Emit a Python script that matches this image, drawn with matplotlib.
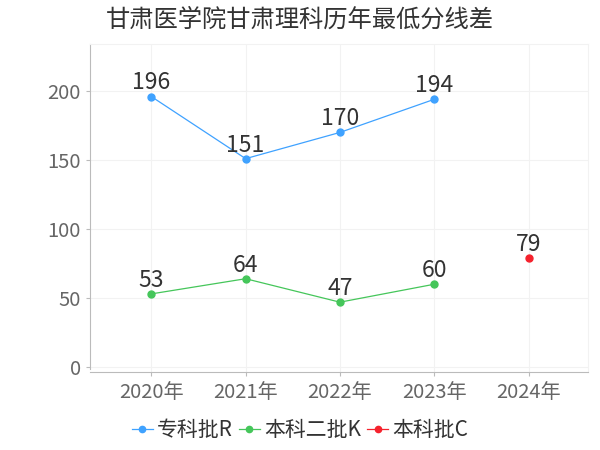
import matplotlib
matplotlib.use("Agg")
import matplotlib.pyplot as plt

plt.rcParams['font.family'] = ['Noto Sans CJK SC', 'DejaVu Sans']

years = ['2020年', '2021年', '2022年', '2023年', '2024年']
zhuanke_r = [196, 151, 170, 194, None]
benke2_k = [53, 64, 47, 60, None]
benke_c = [None, None, None, None, 79]

series = [
    ('专科批R', zhuanke_r, '#3fa2ff'),
    ('本科二批K', benke2_k, '#45c65a'),
    ('本科批C', benke_c, '#f5222d'),
]

fig = plt.figure(figsize=(6, 4.5), dpi=100)
ax = fig.add_axes([0.15, 0.1733, 0.83, 0.7287])

x = list(range(len(years)))
for name, vals, col in series:
    xs = [i for i, v in zip(x, vals) if v is not None]
    ys = [v for v in vals if v is not None]
    ax.plot(xs, ys, color=col, lw=0.9, marker='o', ms=5, label=name, zorder=3)
    for xi, yi in zip(xs, ys):
        ax.annotate(str(yi), (xi, yi), xytext=(0, 1.5), textcoords='offset points',
                    ha='center', va='bottom', fontsize=16.5, color='#333333', zorder=4)

ax.set_xlim(-0.65, 4.63)
ax.set_ylim(-3.6, 234)
ax.set_xticks(x)
ax.set_xticklabels(years)
ax.set_yticks([0, 50, 100, 150, 200])
ax.tick_params(axis='both', labelsize=14.5, colors='#666666', length=3, width=0.8)
ax.tick_params(axis='x', pad=4, color='#bbbbbb')
ax.tick_params(axis='y', color='#bbbbbb')

ax.grid(True, color='#f2f2f2', lw=0.8, zorder=0)
for s in ['top', 'right']:
    ax.spines[s].set_color('#f2f2f2')
for s in ['left', 'bottom']:
    ax.spines[s].set_color('#bbbbbb')
ax.spines['left'].set_bounds(-1.5, 234)

fig.text(0.5, 0.957, '甘肃医学院甘肃理科历年最低分线差', ha='center', va='center',
         fontsize=17.5, color='#333333')

fig.legend(loc='center', bbox_to_anchor=(0.5, 0.044), ncol=3, frameon=False,
           fontsize=15, labelcolor='#333333', handlelength=1.0, handletextpad=0.2,
           columnspacing=0.3, markerscale=0.9)

fig.savefig('out.png', dpi=100)
